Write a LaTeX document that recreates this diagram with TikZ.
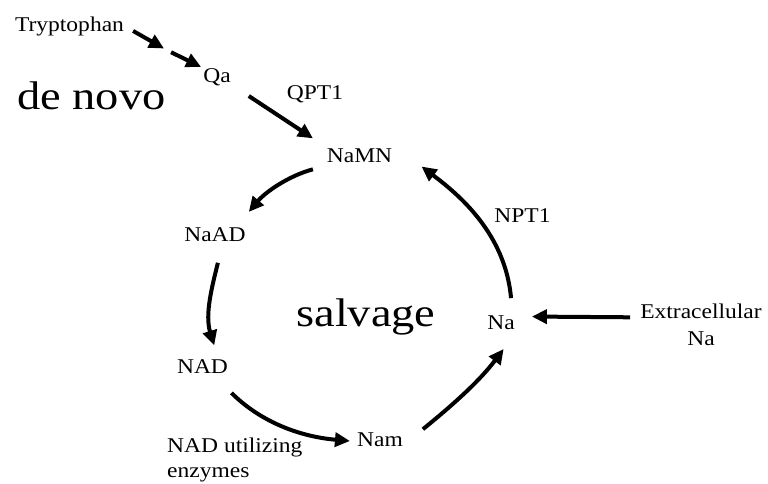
\documentclass[tikz,border=0pt]{standalone}
\usepackage{fontspec}
\setmainfont[FakeStretch=1.12]{Liberation Serif}
\newfontfamily\bigserif[FakeStretch=1.16]{Liberation Serif}
\usetikzlibrary{arrows.meta}

\begin{document}
\begin{tikzpicture}[
      x=1pt,y=1pt,
      compound/.style={inner sep=2pt,font=\fontsize{21}{25}\selectfont},
      enzyme/.style={inner sep=2pt,font=\fontsize{21}{25}\selectfont},
      pathway/.style={inner sep=2pt,font=\bigserif\fontsize{40}{42}\selectfont},
      flow/.style={line width=4pt,-{Triangle[length=15pt,width=14pt]}}
    ]
    \useasboundingbox (0,0) rectangle (768,483);
    % Draw the compounds.
    \node[compound,anchor=base] (trp)   at (69.5,451) {Tryptophan};
    \node[compound,anchor=base] (qa)    at (217,400)  {Qa};
    \node[compound,anchor=base] (namn)  at (359.5,321) {NaMN};
    \node[compound,anchor=base] (naad)  at (215,242)  {NaAD};
    \node[compound,anchor=base] (nad)   at (202.5,110) {NAD};
    \node[compound,anchor=base] (nam)   at (380,37)   {Nam};
    \node[compound,anchor=base] (na)    at (501,154)  {Na};
    \node[compound,anchor=north,align=center] (extra) at (701,181) {Extracellular\\[2pt]Na};
    % Draw the enzymes and pathway names.
    \node[enzyme,anchor=base] (qpt)  at (315,383)   {QPT1};
    \node[enzyme,anchor=base] (npt)  at (522.5,261) {NPT1};
    \node[enzyme,anchor=north west,align=left] (util) at (165,47) {NAD utilizing\\enzymes};
    \node[pathway,anchor=base] (denovo)  at (91.5,373.5) {de novo};
    \node[pathway,anchor=base] (salvage) at (366,157)    {salvage};
    % Draw the de novo steps.
    \coordinate (trpgap) at (167.5,432.5);
    \draw[flow,shorten <=8pt,shorten >=4pt] (trp.east) -- (trpgap);
    \draw[flow,shorten <=4pt] (trpgap) -- (qa.north west);
    \draw[flow,shorten <=19pt,shorten >=14pt] (qa.-26) -- (namn.north west);
    % Draw the salvage cycle.
    \draw[flow,shorten <=19pt,shorten >=17pt] (namn.198) to[out=195,in=50] (naad.22);
    \draw[flow,shorten <=20pt,shorten >=12pt] (naad.-50) to[out=256,in=107] (nad.31);
    \draw[flow,shorten <=25pt,shorten >=5pt] (nad.-39) to[out=-45,in=175] (nam.185);
    \draw[flow,shorten <=23pt,shorten >=22pt] (nam.-10) to[out=39,in=233] (na.-30);
    \draw[flow,shorten <=15pt,shorten >=34pt] (na.39) to[out=95,in=-37] (namn.north east);
    \draw[flow,shorten <=8pt,shorten >=15pt] (extra.173) -- (na.20);
\end{tikzpicture}
\end{document}
